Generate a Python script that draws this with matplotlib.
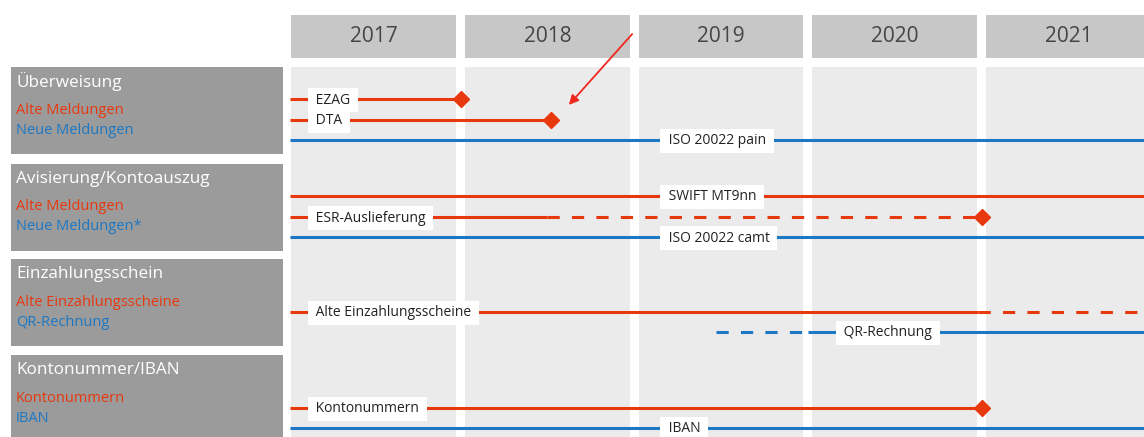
import matplotlib.pyplot as plt
from matplotlib.patches import Rectangle

plt.rcParams['font.family'] = ['Open Sans', 'DejaVu Sans']

years = [2017, 2018, 2019, 2020, 2021]
groups = ['Überweisung', 'Avisierung/Kontoauszug', 'Einzahlungsschein', 'Kontonummer/IBAN']
group_old = ['Alte Meldungen', 'Alte Meldungen', 'Alte Einzahlungsscheine', 'Kontonummern']
group_new = ['Neue Meldungen', 'Neue Meldungen*', 'QR-Rechnung', 'IBAN']

# name, kind, group, slot, solid (from, to), dashed (from, to), end marker, label position
track_names = ['EZAG', 'DTA', 'ISO 20022 pain',
               'SWIFT MT9nn', 'ESR-Auslieferung', 'ISO 20022 camt',
               'Alte Einzahlungsscheine', 'QR-Rechnung',
               'Kontonummern', 'IBAN']
track_kind = ['old', 'old', 'new', 'old', 'old', 'new', 'old', 'new', 'old', 'new']
track_group = [0, 0, 0, 1, 1, 1, 2, 2, 3, 3]
track_slot = [0, 1, 2, 0, 1, 2, 1, 2, 1, 2]
solid_from = [2017.02, 2017.02, 2017.02, 2017.02, 2017.02, 2017.02, 2017.02, 2020.0, 2017.02, 2017.02]
solid_to = [2018.0, 2018.52, 2022.0, 2022.0, 2018.5, 2022.0, 2020.98, 2022.0, 2021.0, 2022.0]
dash_from = [None, None, None, None, 2018.5, None, 2020.98, 2019.47, None, None]
dash_to = [None, None, None, None, 2021.0, None, 2022.0, 2020.0, None, None]
end_marker = [2018.0, 2018.52, None, None, 2021.0, None, None, None, 2021.0, None]
label_x = [2017.145, 2017.145, 2019.175, 2019.175, 2017.145, 2019.175, 2017.145, 2020.185, 2017.145, 2019.175]

RED = '#e8380d'
BLUE = '#1c78c4'
colors = {'old': RED, 'new': BLUE}

W, H = 1144, 437
YEAR_W = 173.7          # px per year
X_ORIGIN = 286.8        # px of 1 Jan 2017
GAP = 9 / YEAR_W
row_top = [66, 163, 258, 354]
slot_off = [33, 54, 74]

fig = plt.figure(figsize=(W / 100, H / 100), dpi=100)

# left panel in pixel units
axl = fig.add_axes([0, 0, 1, 1])
axl.set_xlim(0, W)
axl.set_ylim(H, 0)
axl.axis('off')

# timeline in year units
ax = fig.add_axes([0, 0, 1, 1])
ax.set_xlim(2017 - X_ORIGIN / YEAR_W, 2017 + (W - X_ORIGIN) / YEAR_W)
ax.set_ylim(H, 0)
ax.axis('off')
ax.patch.set_alpha(0)

for y in years:
    ax.add_patch(Rectangle((y + GAP / 2, 15), 1 - GAP, 43, color='#c6c7c6', lw=0))
    ax.text(y + 0.5, 37, str(y), ha='center', va='center', fontsize=15,
            color='#454545')
    ax.add_patch(Rectangle((y + GAP / 2, 67), 1 - GAP, H - 67, color='#ebebeb', lw=0))

for i, g in enumerate(groups):
    t = row_top[i]
    axl.add_patch(Rectangle((11, t + 1), 272, 87, color='#9b9b9b', lw=0))
    axl.text(16, t + 16, g, ha='left', va='center', fontsize=12.3, color='white')
    axl.text(16, t + 44, group_old[i], ha='left', va='center', fontsize=10.5, color=RED)
    axl.text(16, t + 64, group_new[i], ha='left', va='center', fontsize=10.5, color=BLUE)

for k, name in enumerate(track_names):
    c = colors[track_kind[k]]
    yy = row_top[track_group[k]] + slot_off[track_slot[k]]
    ax.plot([solid_from[k], solid_to[k]], [yy, yy], color=c, lw=2.2, solid_capstyle='butt', zorder=3)
    if dash_from[k] is not None:
        ax.plot([dash_from[k], dash_to[k]], [yy, yy], color=c, lw=2.2, dashes=(4, 4), zorder=3)
    if end_marker[k] is not None:
        ax.plot([end_marker[k]], [yy], marker='D', ms=8.5, color=c, mec=c, zorder=4)
    ax.text(label_x[k], yy + 1, ' ' + name + ' ', ha='left', va='center', fontsize=10,
            color='#222222', zorder=5,
            bbox=dict(boxstyle='square,pad=0.3', fc='white', ec='none'))

# arrow pointing to DTA end
ax.annotate('', xy=(567, 107), xytext=(634, 32), xycoords=axl.transData,
            textcoords=axl.transData, zorder=6,
            arrowprops=dict(arrowstyle='-|>', color='#f0281e', lw=1.3, mutation_scale=14))

fig.savefig('out.png', dpi=100)
